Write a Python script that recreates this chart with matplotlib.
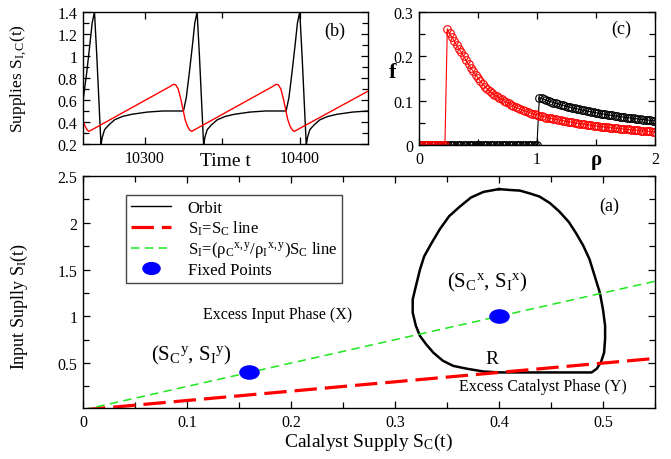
import matplotlib
matplotlib.use('Agg')
import matplotlib.pyplot as plt
import numpy as np
from matplotlib.markers import MarkerStyle
from matplotlib.transforms import Affine2D
from matplotlib.lines import Line2D
from matplotlib.ticker import MultipleLocator, FuncFormatter

plt.rcParams['font.family'] = ['Liberation Serif', 'DejaVu Serif']
plt.rcParams['mathtext.fontset'] = 'custom'
plt.rcParams['mathtext.rm'] = 'Liberation Serif'
plt.rcParams['mathtext.it'] = 'Liberation Serif:italic'
plt.rcParams['mathtext.bf'] = 'Liberation Serif:bold'

# ---- panel (b): time series of the supplies
t_black = [10260.2, 10262.6, 10264.6, 10266.1, 10267.6, 10269.1, 10270.6, 10271.6, 10271.8,
           10272.6, 10274.1, 10276.6, 10280.6, 10285.6, 10291.6, 10301.6, 10311.6,
           10325.0, 10326.8, 10328.8, 10330.8, 10332.3, 10333.8, 10335.3, 10336.8, 10337.8, 10338.0,
           10338.8, 10340.3, 10342.8, 10346.8, 10351.8, 10357.8, 10367.8, 10377.8,
           10391.2, 10393.0, 10395.0, 10397.0, 10398.5, 10400.0, 10401.5, 10403.0, 10404.0, 10404.2,
           10405.0, 10406.5, 10409.0, 10413.0, 10418.0, 10424.0, 10434.0, 10444.0]
s_black = [0.59, 0.85, 1.10, 1.30, 1.40, 1.00, 0.55, 0.25, 0.19,
           0.26, 0.33, 0.37, 0.42, 0.45, 0.47, 0.49, 0.50,
           0.50, 0.62, 0.85, 1.10, 1.30, 1.40, 1.00, 0.55, 0.25, 0.19,
           0.26, 0.33, 0.37, 0.42, 0.45, 0.47, 0.49, 0.50,
           0.50, 0.62, 0.85, 1.10, 1.30, 1.40, 1.00, 0.55, 0.25, 0.19,
           0.26, 0.33, 0.37, 0.42, 0.45, 0.47, 0.49, 0.50]
t_red = [10260.2, 10261.6, 10263.0, 10264.1,
         10316.0, 10318.5, 10320.0, 10321.6, 10323.1, 10324.6, 10326.1, 10327.6, 10329.1, 10330.3,
         10382.2, 10384.7, 10386.2, 10387.8, 10389.3, 10390.8, 10392.3, 10393.8, 10395.3, 10396.5,
         10444.0]
s_red = [0.41, 0.36, 0.325, 0.315,
         0.72, 0.742, 0.738, 0.70, 0.62, 0.52, 0.42, 0.36, 0.325, 0.315,
         0.72, 0.742, 0.738, 0.70, 0.62, 0.52, 0.42, 0.36, 0.325, 0.315,
         0.68]

# ---- panel (c): f versus rho
rho = np.round(np.arange(0, 2.0001, 0.02), 2)
f_red = [0.0] * 12 + [
    0.262, 0.252, 0.243, 0.234, 0.225, 0.217, 0.209, 0.200, 0.191, 0.182,
    0.174, 0.166, 0.159, 0.151, 0.144, 0.138, 0.132, 0.126, 0.121, 0.117,
    0.113, 0.110, 0.106, 0.103, 0.100, 0.097, 0.094, 0.091, 0.088, 0.085,
    0.083, 0.081, 0.079, 0.077, 0.075, 0.073, 0.071, 0.069, 0.068, 0.066,
    0.065, 0.064, 0.062, 0.061, 0.060, 0.059, 0.058, 0.057, 0.056, 0.055,
    0.054, 0.053, 0.052, 0.051, 0.050, 0.0492, 0.0484, 0.0476, 0.0468, 0.0460,
    0.0452, 0.0445, 0.0438, 0.0431, 0.0424, 0.0417, 0.0411, 0.0405, 0.0399, 0.0393,
    0.0387, 0.0381, 0.0375, 0.0370, 0.0365, 0.0360, 0.0355, 0.0350, 0.0345, 0.0340,
    0.0335, 0.0330, 0.0325, 0.0320, 0.0315, 0.0310, 0.0305, 0.0300, 0.0295]
f_black = [0.0] * 51 + [
    0.107, 0.105, 0.103, 0.101, 0.099, 0.0975, 0.0957, 0.094, 0.0925, 0.091,
    0.0895, 0.088, 0.0866, 0.0853, 0.084, 0.0827, 0.0815, 0.0803, 0.079, 0.078,
    0.0769, 0.0758, 0.0748, 0.0738, 0.0728, 0.0718, 0.0709, 0.070, 0.069, 0.0682,
    0.0674, 0.0666, 0.0658, 0.065, 0.0643, 0.0635, 0.0628, 0.062, 0.0614, 0.0607,
    0.060, 0.0594, 0.0588, 0.058, 0.0575, 0.0569, 0.0563, 0.0557, 0.0552, 0.0546]

# ---- panel (a): phase plane
orbit_x = [0.400, 0.410, 0.420, 0.429, 0.439, 0.449, 0.458, 0.467, 0.474, 0.481,
           0.487, 0.492, 0.497, 0.500, 0.502, 0.502, 0.501, 0.498, 0.494, 0.489,
           0.440, 0.401, 0.385, 0.369, 0.356, 0.346, 0.337, 0.330, 0.324, 0.320,
           0.317, 0.317, 0.320, 0.324, 0.328, 0.335, 0.343, 0.352, 0.362, 0.373,
           0.385, 0.400]
orbit_y = [2.360, 2.351, 2.344, 2.316, 2.280, 2.210, 2.120, 2.010, 1.890, 1.755,
           1.610, 1.430, 1.250, 1.070, 0.900, 0.760, 0.610, 0.510, 0.440, 0.400,
           0.400, 0.400, 0.410, 0.440, 0.470, 0.525, 0.610, 0.700, 0.790, 0.900,
           1.040, 1.180, 1.320, 1.500, 1.640, 1.780, 1.930, 2.070, 2.170, 2.270,
           2.330, 2.360]
line_sc = [0.0, 0.55]
line_eq = [0.0, 0.55]          # S_I = S_C
line_ratio = [0.0, 1.375]      # S_I = (rho_C/rho_I) S_C
fixed_x = [0.4, 0.16]
fixed_y = [1.0, 0.4]

fmt = FuncFormatter(lambda v, p: '%g' % v)


def style_ticks(ax):
    ax.tick_params(which='both', direction='in', top=True, right=True, labelsize=11.5, width=0.9)
    ax.tick_params(which='major', length=5, pad=4)
    ax.tick_params(which='minor', length=4)
    ax.xaxis.set_major_formatter(fmt)
    ax.yaxis.set_major_formatter(fmt)
    for s in ax.spines.values():
        s.set_linewidth(1.0)


fig = plt.figure(figsize=(6.71, 4.6), dpi=100)

# panel (b)
axb = fig.add_axes([0.1237, 0.6848, 0.4247, 0.287])
axb.plot(t_black, s_black, color='black', lw=1.0)
axb.plot(t_red, s_red, color='red', lw=1.0)
axb.set_xlim(10260.2, 10444)
axb.set_ylim(0.2, 1.4)
axb.xaxis.set_major_locator(MultipleLocator(100))
axb.xaxis.set_minor_locator(MultipleLocator(50))
axb.yaxis.set_major_locator(MultipleLocator(0.2))
axb.yaxis.set_minor_locator(MultipleLocator(0.1))
style_ticks(axb)
axb.set_xlabel('Time t', fontsize=14)
axb.xaxis.set_label_coords(0.5, -0.06)
axb.set_ylabel(r'Supplies S$_\mathregular{I,C}$(t)', fontsize=12.5)
axb.yaxis.set_label_coords(-0.19, 0.5)
axb.text(10422.6, 1.232, '(b)', fontsize=13, ha='center', va='center')

# panel (c)
axc = fig.add_axes([0.6244, 0.6826, 0.3517, 0.289])
axc.plot(rho, f_black, color='black', lw=0.8, marker='o', mfc='none', mec='black', ms=5.5, mew=0.8)
axc.plot(rho, f_red, color='red', lw=0.8, marker='o', mfc='none', mec='red', ms=5.5, mew=0.8)
axc.set_xlim(0, 2)
axc.set_ylim(0, 0.3)
axc.xaxis.set_major_locator(MultipleLocator(1))
axc.xaxis.set_minor_locator(MultipleLocator(0.5))
axc.yaxis.set_major_locator(MultipleLocator(0.1))
axc.yaxis.set_minor_locator(MultipleLocator(0.05))
style_ticks(axc)
axc.set_xlabel('ρ', fontsize=15, fontweight='bold')
axc.xaxis.set_label_coords(0.75, -0.03)
axc.set_ylabel('f', fontsize=16, fontweight='bold', rotation=0, va='center')
axc.yaxis.set_label_coords(-0.11, 0.55)
axc.text(1.718, 0.264, '(c)', fontsize=13, ha='center', va='center')

# panel (a)
axa = fig.add_axes([0.1237, 0.1109, 0.8525, 0.5043])
ell = MarkerStyle('o', transform=Affine2D().scale(1.45, 1.0))
axa.plot(orbit_x, orbit_y, color='black', lw=1.8)
axa.plot(line_sc, line_eq, color='red', lw=2.3, dashes=(7, 2.5))
axa.plot(line_sc, line_ratio, color='#1ee81e', lw=1.1, dashes=(5.5, 3.5))
axa.plot(fixed_x, fixed_y, ls='none', marker=ell, ms=9.5, color='blue')
axa.set_xlim(0, 0.55)
axa.set_ylim(0.02, 2.5)
axa.xaxis.set_major_locator(MultipleLocator(0.1))
axa.xaxis.set_minor_locator(MultipleLocator(0.05))
axa.yaxis.set_major_locator(MultipleLocator(0.5))
axa.yaxis.set_minor_locator(MultipleLocator(0.25))
style_ticks(axa)
axa.set_xlabel(r'Calalyst Supply S$_\mathregular{C}$(t)', fontsize=14)
axa.xaxis.set_label_coords(0.5, -0.1)
axa.set_ylabel(r'Input Suplly S$_\mathregular{I}$(t)', fontsize=13)
axa.yaxis.set_label_coords(-0.092, 0.44)

axa.text(0.389, 1.376, r'(S$_\mathregular{C}{}^\mathregular{x}$, S$_\mathregular{I}{}^\mathregular{x}$)',
         fontsize=15, ha='center', va='center')
axa.text(0.104, 0.596, r'(S$_\mathregular{C}{}^\mathregular{y}$, S$_\mathregular{I}{}^\mathregular{y}$)',
         fontsize=15, ha='center', va='center')
axa.text(0.187, 1.03, 'Excess Input Phase (X)', fontsize=11.5, ha='center', va='center')
axa.text(0.393, 0.55, 'R', fontsize=14, ha='center', va='center')
axa.text(0.442, 0.252, 'Excess Catalyst Phase (Y)', fontsize=11.5, ha='center', va='center')
axa.text(0.506, 2.19, '(a)', fontsize=13, ha='center', va='center')

handles = [
    Line2D([], [], color='black', lw=1.0),
    Line2D([], [], color='red', lw=2.3, dashes=(7, 2.5)),
    Line2D([], [], color='#1ee81e', lw=1.1, dashes=(5.5, 3.5)),
    Line2D([], [], ls='none', marker=ell, ms=8.5, color='blue'),
]
labels = [
    'Orbit',
    r'S$_\mathregular{I}$=S$_\mathregular{C}$ line',
    r'S$_\mathregular{I}$=(ρ$_\mathregular{C}{}^\mathregular{x,y}$/ρ$_\mathregular{I}{}^\mathregular{x,y}$)S$_\mathregular{C}$ line',
    'Fixed Points',
]
leg = axa.legend(handles, labels, loc='upper left', bbox_to_anchor=(0.075, 0.918),
                 fontsize=12, frameon=True, fancybox=False, framealpha=1,
                 edgecolor='#444444', handlelength=2.4, handletextpad=1.0,
                 labelspacing=0.15, borderpad=0.3, borderaxespad=0)
leg.get_frame().set_linewidth(1.0)

fig.savefig('out.png', dpi=100)
